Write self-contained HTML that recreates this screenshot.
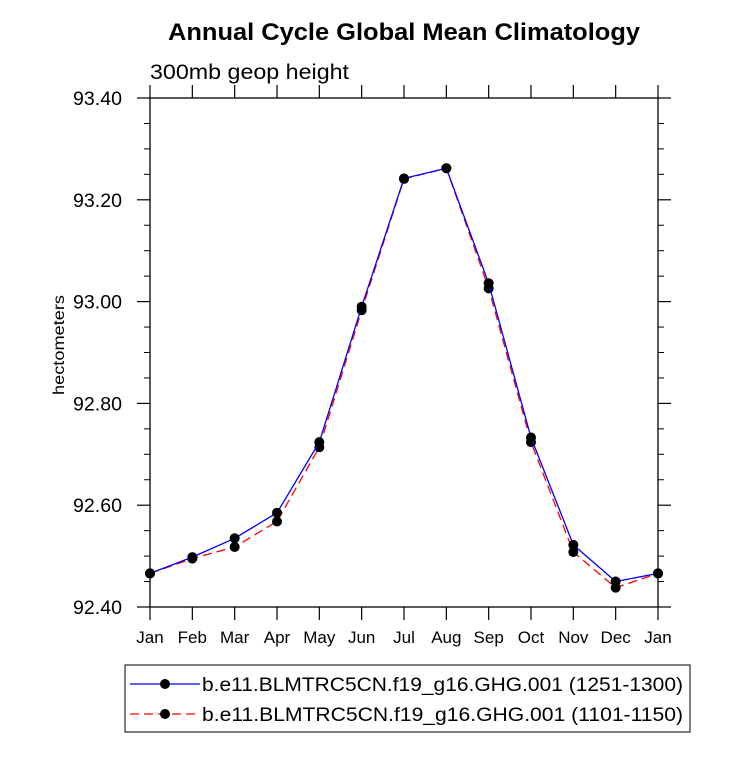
<!DOCTYPE html>
<html><head><meta charset="utf-8"><style>
body{margin:0;background:#fff;}
svg text{font-family:"Liberation Sans",sans-serif;}
</style></head><body>
<svg id="chart" width="733" height="754" xmlns="http://www.w3.org/2000/svg">
<text x="168" y="40" font-size="24" font-weight="bold" textLength="472" lengthAdjust="spacingAndGlyphs">Annual Cycle Global Mean Climatology</text>
<text x="150" y="79" font-size="21" textLength="199" lengthAdjust="spacingAndGlyphs">300mb geop height</text>
<text transform="translate(64,345) rotate(-90)" font-size="16" text-anchor="middle" textLength="100" lengthAdjust="spacingAndGlyphs">hectometers</text>
<g id="axes"></g>
<g id="series"></g>
<g>
<rect x="125" y="665" width="565" height="67" fill="none" stroke="#000" stroke-width="1"/>
<line x1="130" y1="684" x2="200" y2="684" stroke="#0000ff" stroke-width="1.3"/>
<circle cx="165" cy="684" r="5" fill="#000"/>
<text x="202" y="691" font-size="19" textLength="481" lengthAdjust="spacingAndGlyphs">b.e11.BLMTRC5CN.f19_g16.GHG.001 (1251-1300)</text>
<line x1="130" y1="714" x2="200" y2="714" stroke="#ff0000" stroke-width="1.3" stroke-dasharray="9,5"/>
<circle cx="165" cy="714" r="5" fill="#000"/>
<text x="202" y="721" font-size="19" textLength="481" lengthAdjust="spacingAndGlyphs">b.e11.BLMTRC5CN.f19_g16.GHG.001 (1101-1150)</text>
</g>
</svg>
<script>
const months=["Jan","Feb","Mar","Apr","May","Jun","Jul","Aug","Sep","Oct","Nov","Dec","Jan"];
const blueVals=[92.466,92.498,92.535,92.585,92.724,92.990,93.242,93.262,93.036,92.733,92.522,92.450,92.466];
const redVals=[92.466,92.495,92.518,92.568,92.714,92.983,93.241,93.262,93.026,92.724,92.508,92.438,92.466];
const yTicks=[92.40,92.60,92.80,93.00,93.20,93.40];
const L=150,R=658,T=98,B=607,ymin=92.4,ymax=93.4;
const xs=i=>L+(R-L)*i/12;
const ys=v=>B-(B-T)*(v-ymin)/(ymax-ymin);
const NS="http://www.w3.org/2000/svg";
function mk(tag,attrs,parent){const e=document.createElementNS(NS,tag);for(const k in attrs)e.setAttribute(k,attrs[k]);parent.appendChild(e);return e;}
const ax=document.getElementById('axes');
const frame=mk('rect',{x:L,y:T,width:R-L,height:B-T,fill:'none',stroke:'#000','stroke-width':1.3},ax);


months.forEach((m,i)=>{
  const x=xs(i);
  mk('line',{x1:x,y1:B,x2:x,y2:B+13,stroke:'#000','stroke-width':1.2},ax);
  mk('line',{x1:x,y1:T,x2:x,y2:T-13,stroke:'#000','stroke-width':1.2},ax);
  const t=mk('text',{x:x,y:B+36,'font-size':17,'text-anchor':'middle'},ax);
  t.textContent=m;
  
  
});
for(let v=ymin;v<=ymax+1e-9;v+=0.05){
  const y=ys(v);const major=Math.abs((v-ymin)/0.2-Math.round((v-ymin)/0.2))<1e-6;
  const len=major?13:6;
  mk('line',{x1:L,y1:y,x2:L-len,y2:y,stroke:'#000','stroke-width':major?1.2:1},ax);
  mk('line',{x1:R,y1:y,x2:R+len,y2:y,stroke:'#000','stroke-width':major?1.2:1},ax);
}
yTicks.forEach(v=>{
  const t=mk('text',{x:L-28,y:ys(v)+7,'font-size':19,'text-anchor':'end',textLength:49,lengthAdjust:'spacingAndGlyphs'},ax);
  t.textContent=v.toFixed(2);
  
  
});
const sg=document.getElementById('series');
function draw(vals,color,dash,name){
  const pts=vals.map((v,i)=>xs(i)+','+ys(v)).join(' ');
  const pl=mk('polyline',{points:pts,fill:'none',stroke:color,'stroke-width':1.3},sg);
  if(dash)pl.setAttribute('stroke-dasharray',dash);
  
  
  vals.forEach((v,i)=>{
    const c=mk('circle',{cx:xs(i),cy:ys(v),r:5,fill:'#000'},sg);
    
    
  });
}
draw(redVals,'#ff0000','9,5','series-1101-1150');
draw(blueVals,'#0000ff',null,'series-1251-1300');
</script>
</body></html>
